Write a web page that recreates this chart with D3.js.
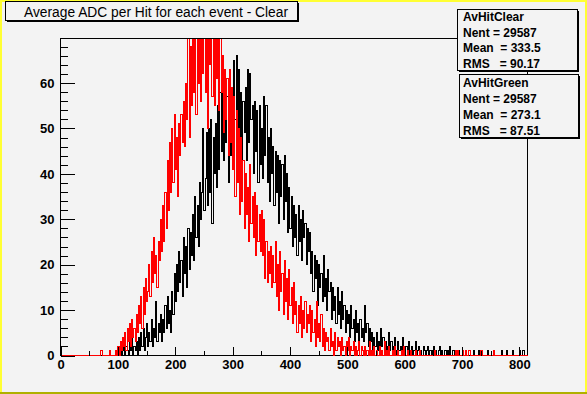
<!DOCTYPE html>
<html><head><meta charset="utf-8">
<script src="https://cdn.jsdelivr.net/npm/d3@7"></script>
<style>
body{margin:0;background:#f3f3f3}
svg{display:block}
text{font-family:"Liberation Sans",Arial,Helvetica,sans-serif}
</style>
</head><body>
<svg id="c" width="587" height="394"></svg>
<script>
// ---- data (counts per 2-unit bin) ----
const binWidth = 2;
const clearStart = 96;
const clearCounts = [
0,0,1,0,2,0,1,3,0,2,1,0,3,1,4,0,2,1,3,0,
4,1,5,2,6,1,4,7,2,5,3,8,2,6,4,12,3,7,5,9,
3,8,5,11,6,13,7,10,5,14,9,18,12,20,14,23,16,21,13,26,
18,24,15,28,19,27,22,31,21,35,26,33,24,38,30,36,50,32,39,49,
33,50,36,52,29,48,40,51,37,55,41,58,45,60,43,54,47,57,38,58,
44,56,48,65,52,66,50,63,45,58,41,56,49,59,43,63,47,62,52,55,
40,56,45,54,38,55,42,50,39,57,44,55,38,48,34,50,40,46,33,45,
36,44,29,43,35,42,30,44,34,40,27,37,28,35,24,33,26,31,22,33,
25,30,21,32,26,29,20,28,23,27,18,23,14,22,17,21,11,20,15,18,
12,22,13,17,10,19,14,16,8,15,10,13,7,15,9,12,6,14,8,11,
5,10,7,9,4,11,6,8,3,10,5,7,2,8,4,6,3,11,5,7,
2,6,3,5,1,4,2,5,1,3,0,6,2,4,1,3,0,2,5,1,
3,0,2,4,1,0,3,1,2,0,4,1,0,2,1,3,0,1,2,0,
1,3,0,1,2,0,1,0,2,1,0,1,2,0,1,0,1,2,0,1,
0,1,2,0,1,0,0,1,0,1,0,2,0,0,1,0,1,0,0,1,
0,0,1,0,0,1,0,0,1,0,0,0,1,0,0,0,1,0,0,1,
0,0,0,0,1,0,0,0,0,1,0,0,0,0,0,0,1,0,0,0,
0,1,0,0,0,0,1,0,0,0,0,0,1,0,0,1,0
];
const greenStart = 66;
const greenCounts = [
0,0,1,1,0,0,0,0,0,0,1,0,0,0,0,1,0,2,0,3,
1,4,2,5,1,6,3,7,2,8,4,6,3,9,5,11,7,13,6,15,
9,17,12,14,20,13,23,16,26,18,22,15,25,21,30,23,33,25,36,28,
43,32,47,36,50,38,53,41,48,35,51,44,53,47,56,46,60,52,72,48,
68,55,74,58,71,53,76,60,72,56,78,62,73,58,75,50,72,64,77,57,
71,55,74,61,79,54,70,58,66,49,63,52,61,44,63,47,59,41,57,35,
54,38,50,31,48,34,43,28,40,31,37,25,42,29,35,26,36,22,33,25,
31,23,32,22,30,17,25,16,23,18,24,15,22,16,25,13,20,10,23,14,
18,9,21,12,17,8,19,11,15,7,16,9,12,5,11,7,13,4,10,6,
12,5,9,7,11,3,10,5,8,2,12,4,7,3,9,2,6,1,5,3,
4,1,6,2,3,0,5,1,4,2,3,0,4,1,2,0,3,1,4,0,
2,1,3,0,2,0,1,3,0,2,1,0,2,0,1,0,3,0,1,0,
2,0,1,0,0,2,0,1,0,3,0,1,0,2,0,0,1,0,2,0,
0,1,0,0,1,0,2,0,0,1,0,0,1,0,0,0,1,0,0,0,
1,0,0,0,0,0,0,0,0,0,0,0,0,1,0,0,0,0,0,0,
0,0,0,0,0,0,0,0,0,0,0,1,0,1,0,0,0,1,0,0,
1,0,0,1,0,0,0,0,0,0,0,0,0,1,1,0,0,0,0,0,
0,0,0,0,1,0,0,0,0
];
const xTicks = [0,100,200,300,400,500,600,700,800];
const xMinorTicks = [50,150,250,350,450,550,650,750];
const yTicks = [0,10,20,30,40,50,60];
const yMinorTicks = d3.range(0, 70, 2);
const titleText = "Average ADC per Hit for each event - Clear";
const statsClear = ["AvHitClear", "Nent = 29587", "Mean  = 333.5", "RMS   = 90.17"];
const statsGreen = ["AvHitGreen", "Nent = 29587", "Mean  = 273.1", "RMS   = 87.51"];
const xDomain = [0, 814];
const yDomain = [0, 69.8];

// ---- drawing ----
const W = 587, H = 394;
const bg = "#f3f3f3";
const svg = d3.select("#c");

// canvas border
svg.append("rect").attr("x",0).attr("y",0).attr("width",W).attr("height",H).attr("fill","#ffff33");
svg.append("rect").attr("x",0).attr("y",H-2).attr("width",W).attr("height",2).attr("fill","#b0b000");
svg.append("rect").attr("x",2).attr("y",2).attr("width",W-4).attr("height",H-4).attr("fill",bg);

const fx0 = 60, fx1 = 527, fy0 = 38, fy1 = 355;
const x = d3.scaleLinear().domain(xDomain).range([fx0+0.5, fx1+0.5]);
const y = d3.scaleLinear().domain(yDomain).range([fy1+0.5, fy0+0.5]);

svg.append("defs").append("clipPath").attr("id","clip")
  .append("rect").attr("x",fx0).attr("y",fy0+1).attr("width",fx1-fx0+1).attr("height",fy1-fy0+1);

// frame
svg.append("rect").attr("x",fx0+0.5).attr("y",fy0+0.5).attr("width",fx1-fx0).attr("height",fy1-fy0)
  .attr("fill","none").attr("stroke","#000").attr("shape-rendering","crispEdges");

function stepPoints(start, counts){
  const pts = [[xDomain[0],0],[start,0]];
  counts.forEach((c,i)=>pts.push([start+i*binWidth, c]));
  pts.push([start+counts.length*binWidth, 0]);
  pts.push([xDomain[1], 0]);
  return pts;
}
const line = d3.line().x(d=>x(d[0])).y(d=>y(d[1])).curve(d3.curveStepAfter);

const g = svg.append("g").attr("clip-path","url(#clip)");
g.append("path").attr("d", line(stepPoints(clearStart, clearCounts)))
  .attr("fill","none").attr("stroke","#000").attr("stroke-width",1).attr("shape-rendering","crispEdges");
g.append("path").attr("d", line(stepPoints(greenStart, greenCounts)))
  .attr("fill","none").attr("stroke","#ff0000").attr("stroke-width",1).attr("shape-rendering","crispEdges");

// axes
function styleAxis(sel){
  sel.select(".domain").remove();
  sel.selectAll("line").attr("stroke","#000").attr("shape-rendering","crispEdges");
  sel.selectAll("text").attr("fill","#000").attr("font-size","13px").attr("font-weight","bold")
     .attr("font-family","'Liberation Sans',Arial,sans-serif");
}
svg.append("g").attr("transform",`translate(0,${fy1+0.5})`)
  .call(d3.axisBottom(x).tickValues(xTicks).tickSize(-9).tickPadding(4).tickFormat(d3.format("d")))
  .call(styleAxis);
svg.append("g").attr("transform",`translate(0,${fy1+0.5})`)
  .call(d3.axisBottom(x).tickValues(xMinorTicks).tickSize(-4.5).tickFormat(""))
  .call(styleAxis);
svg.append("g").attr("transform",`translate(${fx0+0.5},0)`)
  .call(d3.axisLeft(y).tickValues(yTicks).tickSize(-14).tickPadding(6).tickFormat(d3.format("d")))
  .call(styleAxis);
svg.append("g").attr("transform",`translate(${fx0+0.5},0)`)
  .call(d3.axisLeft(y).tickValues(yMinorTicks).tickSize(-7).tickFormat(""))
  .call(styleAxis);

// boxes
function pave(x0, y0, w, h){
  svg.append("rect").attr("x",x0+2).attr("y",y0+2).attr("width",w).attr("height",h).attr("fill","#000")
    .attr("shape-rendering","crispEdges");
  svg.append("rect").attr("x",x0+0.5).attr("y",y0+0.5).attr("width",w).attr("height",h)
    .attr("fill",bg).attr("stroke","#000").attr("shape-rendering","crispEdges");
}
pave(5, 1, 292, 19);
svg.append("text").attr("x",24).attr("y",16.5).attr("font-size","15.5px").attr("fill","#000")
  .attr("textLength",264).attr("lengthAdjust","spacingAndGlyphs").text(titleText);

pave(457, 9, 120, 61);
statsClear.forEach((t,i)=>{
  svg.append("text").attr("x",463).attr("y",21+i*15.5).attr("font-size","12px").attr("font-weight","bold")
    .attr("fill","#000").style("white-space","pre").text(t);
});
pave(459, 74, 119, 63);
statsGreen.forEach((t,i)=>{
  svg.append("text").attr("x",463).attr("y",86.5+i*16).attr("font-size","12px").attr("font-weight","bold")
    .attr("fill","#000").style("white-space","pre").text(t);
});
</script>
</body></html>
